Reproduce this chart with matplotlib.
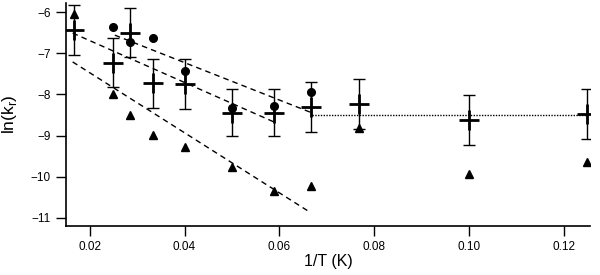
import matplotlib.pyplot as plt
import numpy as np

plt.rcParams['font.family'] = ['Liberation Sans', 'DejaVu Sans']

# averaged values with error bars
x_avg = [0.0167, 0.025, 0.0286, 0.0333, 0.04, 0.05, 0.0588, 0.0667, 0.0769, 0.10, 0.125]
y_avg = [-6.44, -7.23, -6.50, -7.73, -7.75, -8.44, -8.44, -8.31, -8.23, -8.62, -8.48]
y_err = [0.6, 0.6, 0.6, 0.6, 0.6, 0.58, 0.58, 0.6, 0.6, 0.6, 0.6]

# circles
x_circ = [0.025, 0.0286, 0.0333, 0.04, 0.05, 0.0588, 0.0667]
y_circ = [-6.36, -6.73, -6.64, -7.42, -8.32, -8.28, -7.95]

# triangles
x_tri = [0.0167, 0.025, 0.0286, 0.0333, 0.04, 0.05, 0.0588, 0.0667, 0.0769, 0.10, 0.125]
y_tri = [-6.05, -7.99, -8.50, -8.99, -9.28, -9.77, -10.34, -10.23, -8.81, -9.93, -9.63]

# dashed fits
fit1_x = [0.0164, 0.0589]
fit1_y = [-6.51, -8.67]
fit2_x = [0.0253, 0.0665]
fit2_y = [-6.56, -8.43]
fit3_x = [0.0164, 0.0666]
fit3_y = [-7.21, -10.87]
# dotted plateau
flat_x = [0.067, 0.125]
flat_y = [-8.50, -8.50]


def main():
    fig = plt.figure(figsize=(6, 2.75), dpi=100)
    ax = fig.add_axes([0.11, 0.179, 0.873, 0.81])

    ax.plot(fit1_x, fit1_y, color='black', ls=(0, (4, 3)), lw=1)
    ax.plot(fit2_x, fit2_y, color='black', ls=(0, (4, 3)), lw=1)
    ax.plot(fit3_x, fit3_y, color='black', ls=(0, (4, 3)), lw=1)
    ax.plot(flat_x, flat_y, color='black', ls=(0, (1, 1)), lw=1)

    ax.errorbar(x_avg, y_avg, yerr=y_err, fmt='none', ecolor='black',
                elinewidth=1, capsize=4.5, capthick=1)
    ax.plot(x_avg, y_avg, ls='none', marker='+', ms=14, mew=2, color='black')
    ax.plot(x_circ, y_circ, ls='none', marker='o', ms=5.5, color='black')
    ax.plot(x_tri, y_tri, ls='none', marker='^', ms=6, color='black')

    ax.set_xlim(0.015, 0.1255)
    ax.set_ylim(-11.19, -5.78)
    ax.set_xticks([0.02, 0.04, 0.06, 0.08, 0.10, 0.12])
    ax.set_xticklabels(['0.02', '0.04', '0.06', '0.08', '0.10', '0.12'])
    ax.set_yticks([-6, -7, -8, -9, -10, -11])

    for s in ['top', 'right']:
        ax.spines[s].set_visible(False)
    ax.spines['left'].set_linewidth(1.2)
    ax.spines['bottom'].set_linewidth(1.2)
    ax.tick_params(direction='out', length=7, width=1, labelsize=8.5, pad=4)

    ax.set_xlabel('1/T (K)', fontsize=11.5, labelpad=1)
    ax.set_ylabel(r'ln(k$_\mathregular{r}$)', fontsize=12.5, labelpad=8)

    fig.savefig('out.png', dpi=100)


if __name__ == '__main__':
    main()
